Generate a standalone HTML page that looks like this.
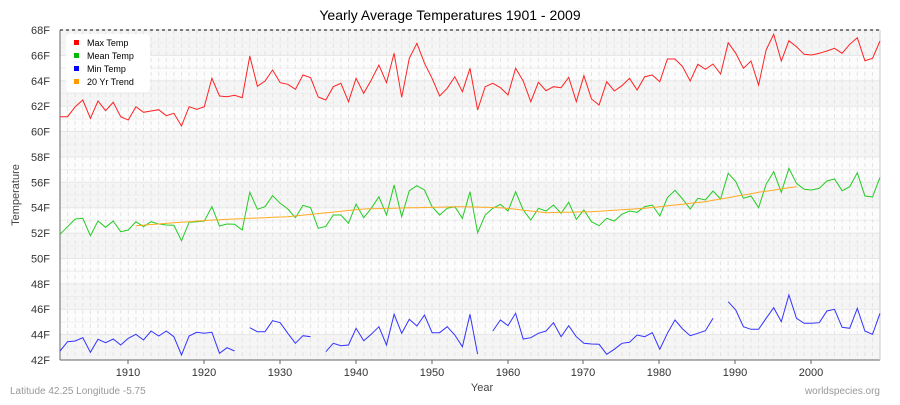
<!DOCTYPE html>
<html><head><meta charset="utf-8"><style>
body{margin:0;background:#fff;width:900px;height:400px;overflow:hidden;font-family:"Liberation Sans",sans-serif}
svg text{font-family:"Liberation Sans",sans-serif}
</style></head><body>
<svg id="s" width="900" height="400" xmlns="http://www.w3.org/2000/svg">
<rect width="900" height="400" fill="#fff"/>
<g id="bg"></g>
<line x1="60" y1="30" x2="880" y2="30" stroke="#000" stroke-dasharray="3,3" stroke-width="1"/>
<line x1="60" y1="30" x2="60" y2="360" stroke="#666"/>
<line x1="60" y1="360" x2="880" y2="360" stroke="#666"/>
<line x1="880" y1="30" x2="880" y2="360" stroke="#ccc"/>
<g id="lines"></g>
<text x="450" y="20" font-size="14" text-anchor="middle" fill="#000">Yearly Average Temperatures 1901 - 2009</text>
<g id="yl" font-size="11" fill="#333" text-anchor="end"></g>
<g font-size="11" fill="#333" text-anchor="middle">
<text x="128" y="376">1910</text><text x="204" y="376">1920</text><text x="280" y="376">1930</text><text x="356" y="376">1940</text><text x="432" y="376">1950</text><text x="508" y="376">1960</text><text x="583" y="376">1970</text><text x="659" y="376">1980</text><text x="735" y="376">1990</text><text x="811" y="376">2000</text>
</g>
<text x="482" y="391" font-size="11" fill="#444" text-anchor="middle">Year</text>
<text x="19" y="195" font-size="11" fill="#444" text-anchor="middle" transform="rotate(-90 19 195)">Temperature</text>
<text x="10" y="394" font-size="10" fill="#999">Latitude 42.25 Longitude -5.75</text>
<text x="880" y="394" font-size="10" fill="#999" text-anchor="end">worldspecies.org</text>
<g>
<rect x="66" y="34" width="84" height="58" rx="4" fill="#fff" opacity="0.95"/>
<rect x="74" y="40" width="5" height="5" fill="#f00"/><text x="87" y="46" font-size="9" fill="#000">Max Temp</text>
<rect x="74" y="53" width="5" height="5" fill="#0b0"/><text x="87" y="59" font-size="9" fill="#000">Mean Temp</text>
<rect x="74" y="66" width="5" height="5" fill="#00f"/><text x="87" y="72" font-size="9" fill="#000">Min Temp</text>
<rect x="74" y="79" width="5" height="5" fill="#f90"/><text x="87" y="85" font-size="9" fill="#000">20 Yr Trend</text>
</g>
</svg>
<script>
var NS="http://www.w3.org/2000/svg";
function el(t,a,p){var e=document.createElementNS(NS,t);for(var k in a)e.setAttribute(k,a[k]);p.appendChild(e);return e;}
var bg=document.getElementById('bg'),L=document.getElementById('lines'),yl=document.getElementById('yl');
var sy=330/26;
for(var i=0;i<13;i++){var y0=30+i*2*sy;el('rect',{x:60,y:y0,width:820,height:2*sy,fill:i%2==0?'#f5f5f5':'#fcfcfc'},bg);}
for(var i=0;i<=26;i++){var y=30+i*sy;el('line',{x1:60,x2:880,y1:y,y2:y,stroke:i%2==0?'#e6e6e6':'#eeeeee','stroke-width':1},bg);}
for(var i=1;i<109;i++){var x=60+i*7.593;el('line',{x1:x,x2:x,y1:30,y2:360,stroke:'#e4e4e4','stroke-dasharray':'4,3','stroke-width':1},bg);}
for(var i=0;i<=13;i++){var t=68-2*i;var e=el('text',{x:50,y:30+i*2*sy+4},yl);e.textContent=t+'F';}
[128,204,280,356,432,508,583,659,735,811].forEach(function(x){el('line',{x1:x,x2:x,y1:360,y2:364,stroke:'#666'},bg);});
function X(i){return 60+i*7.593;}
function Y(v){return v/3+25;}
function draw(arr,startIdx,color){var segs=[],cur=[];arr.forEach(function(v,j){if(v===null){if(cur.length)segs.push(cur);cur=[];}else cur.push(X(startIdx+j).toFixed(1)+','+Y(v).toFixed(1));});if(cur.length)segs.push(cur);segs.forEach(function(s){el('polyline',{points:s.join(' '),fill:'none',stroke:color,'stroke-width':1},L);});}
var max1=[275,275,245,225,280,228,257,232,275,285,245,262,258,254,272,265,303,245,253,245,160,213,215,211,218,93,184,168,135,173,178,193,150,158,216,225,185,175,230,160,205,165,120,173,85,217,100,55,115,160,213,190,155];
var max2=[200,130,255,185,175,188,210,130,168,230,172,197,185,188,157,230,152,222,240,170,198,182,160,195,155,150,170,102,102,125,168,118,133,117,147,53,85,130,108,180,75,28,108,47,65,88,90,85,78,70,85,58,38,107,100,48];
var mean1=[628,605,582,580,632,588,607,588,620,615,590,605,590,597,600,601,647,592,590,588,545,603,597,598,615,502,553,545,512,535,552,578,541,548,610,604,570,570,595,537,578,550,515,570,480,575,497,482,495,545,570,550,545];
var mean2=[580,500,623,570,550,538,558,500,555,585,550,558,540,565,532,583,555,590,602,580,588,568,558,562,545,540,573,518,496,522,552,520,525,498,522,445,470,520,513,548,478,440,502,430,475,493,495,490,468,462,497,485,443,513,516,457];
var min=[978,950,948,938,982,943,953,942,960,940,928,945,918,933,918,935,990,933,922,925,922,985,968,978,null,908,920,920,887,893,925,955,932,935,null,980,955,962,960,910,947,928,905,960,868,925,883,903,870,923,923,905,930,965,868,987,null,918,885,902,865,942,938,925,918,893,935,902,935,955,957,958,988,973,955,952,930,935,923,973,925,885,912,932,925,917,880,null,830,855,905,913,913,880,848,890,810,880,895,895,893,858,853,907,910,850,918,928,865];
var mx=max1.concat(max2);draw(mx,109-mx.length,'#f22');
var mn=mean1.concat(mean2);draw(mn,109-mn.length,'#2c2');
var trend=[];var tk=[[10,602],[20,585],[30,575],[40,552],[45,549],[53,545],[58,548],[64,563],[70,560],[77,550],[85,530],[92,502],[97,485]];
for(var i=10;i<=97;i++){for(var k=0;k<tk.length-1;k++){if(i>=tk[k][0]&&i<=tk[k+1][0]){var f=(i-tk[k][0])/(tk[k+1][0]-tk[k][0]);trend.push(tk[k][1]+f*(tk[k+1][1]-tk[k][1]));break;}}}
draw(trend,10,'#fa2');
draw(min,0,'#33f');
</script>
</body></html>
